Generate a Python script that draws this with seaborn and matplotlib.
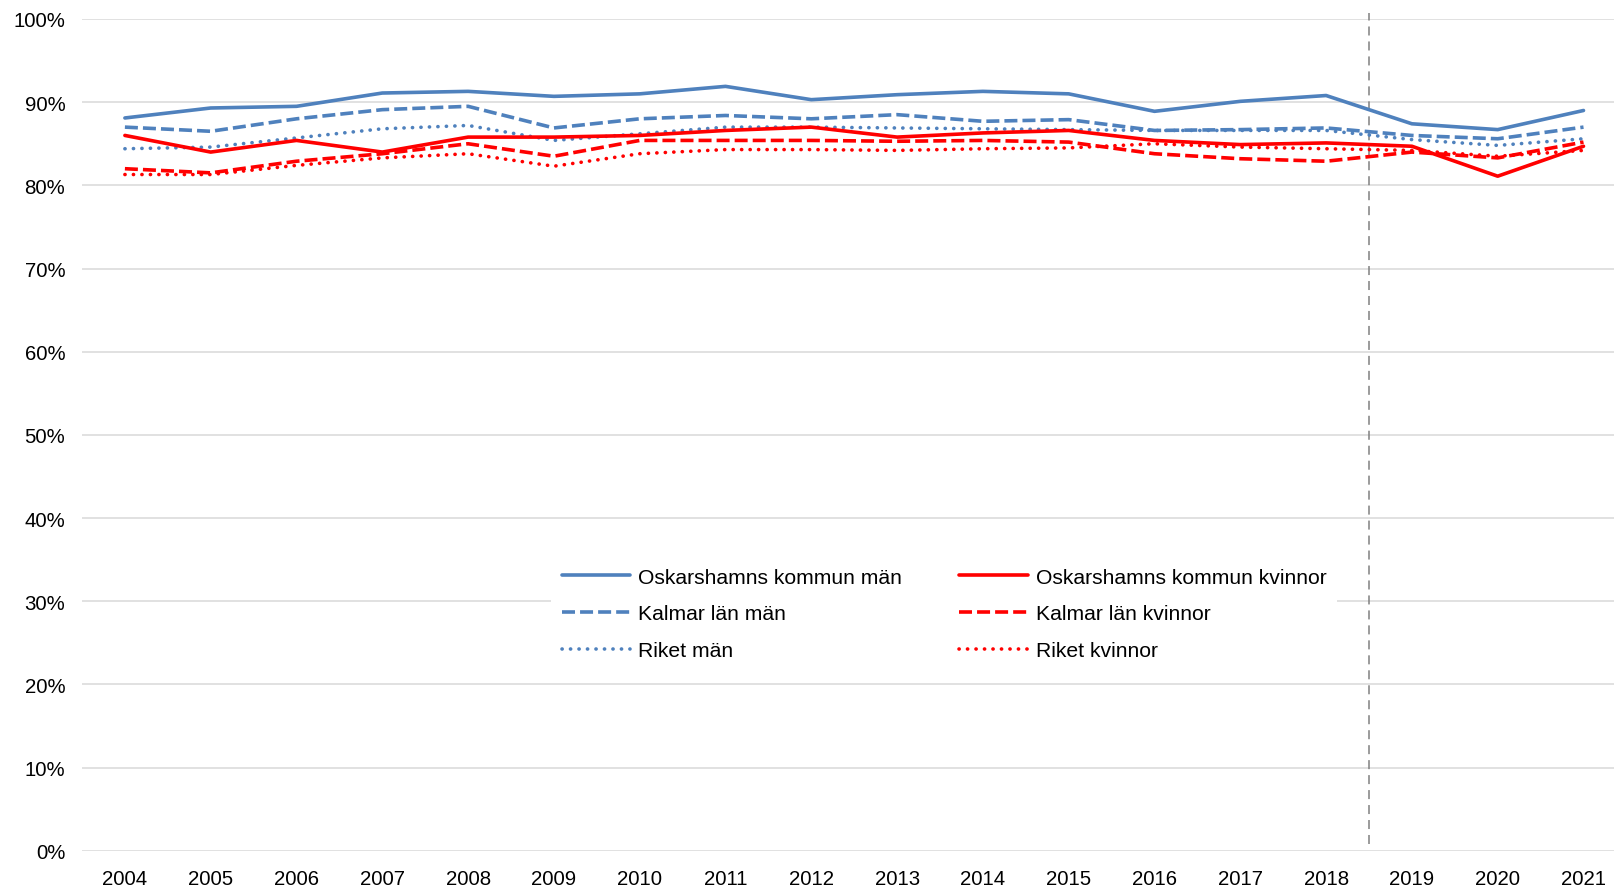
import matplotlib
matplotlib.use("Agg")
import matplotlib.pyplot as plt
from matplotlib.ticker import PercentFormatter
import seaborn as sns
import pandas as pd

years = list(range(2004, 2022))

osk_man = [88.1, 89.3, 89.5, 91.1, 91.3, 90.7, 91.0, 91.9, 90.3, 90.9, 91.3, 91.0, 88.9, 90.1, 90.8, 87.4, 86.7, 89.0]
kalmar_man = [87.0, 86.5, 88.0, 89.1, 89.5, 86.9, 88.0, 88.4, 88.0, 88.5, 87.7, 87.9, 86.6, 86.7, 86.9, 86.0, 85.6, 87.0]
riket_man = [84.4, 84.6, 85.7, 86.8, 87.2, 85.4, 86.2, 87.0, 87.0, 86.9, 86.8, 86.7, 86.6, 86.6, 86.6, 85.5, 84.8, 85.6]
osk_kv = [86.0, 84.0, 85.4, 84.0, 85.8, 85.8, 86.0, 86.6, 87.0, 85.8, 86.3, 86.6, 85.4, 84.9, 85.1, 84.7, 81.1, 84.7]
kalmar_kv = [82.0, 81.5, 82.9, 83.8, 85.0, 83.5, 85.4, 85.4, 85.4, 85.3, 85.4, 85.2, 83.8, 83.2, 82.9, 84.0, 83.3, 85.2]
riket_kv = [81.3, 81.3, 82.4, 83.3, 83.8, 82.3, 83.8, 84.3, 84.3, 84.2, 84.4, 84.5, 85.0, 84.6, 84.4, 84.2, 83.5, 84.2]

labels = ["Oskarshamns kommun män", "Kalmar län män", "Riket män",
          "Oskarshamns kommun kvinnor", "Kalmar län kvinnor", "Riket kvinnor"]
series = [osk_man, kalmar_man, riket_man, osk_kv, kalmar_kv, riket_kv]

BLUE = "#4f81bd"
RED = "#ff0000"
DASH = (0, (3.6, 1.4))
DOT = (0, (0.05, 2.3))
# colour, linestyle, cap
styles = [
    (BLUE, "-", "butt"),
    (BLUE, DASH, "butt"),
    (BLUE, DOT, "round"),
    (RED, "-", "butt"),
    (RED, DASH, "butt"),
    (RED, DOT, "round"),
]

sns.set_theme(style="whitegrid")
plt.rcParams["font.family"] = ["Liberation Sans", "DejaVu Sans"]

fig = plt.figure(figsize=(16.15, 8.87), dpi=100)
ax = fig.add_axes([82 / 1615, 1 - 851.7 / 887, 1 - 82 / 1615, (851.7 - 20) / 887])

for lab, vals, (col, ls, cap) in zip(labels, series, styles):
    df = pd.DataFrame({"year": years, "value": vals})
    sns.lineplot(data=df, x="year", y="value", ax=ax, color=col, linestyle=ls,
                 linewidth=2.6, label=lab, dash_capstyle=cap)

# vertical divider between 2018 and 2019
ax.plot([2018.5, 2018.5], [0.8, 100.7], color="#808080", linewidth=1.1,
        linestyle=(0, (5.9, 3.9)), clip_on=False, zorder=1)

ax.set_xlim(2003.5, 2003.5 + (1615 - 82) / 85.8)
ax.set_ylim(0, 100)
ax.set_xticks(years)
ax.set_yticks(range(0, 101, 10))
ax.yaxis.set_major_formatter(PercentFormatter(decimals=0))
ax.set_xlabel("")
ax.set_ylabel("")

ax.grid(axis="x", visible=False)
ax.grid(axis="y", color="#d9d9d9", linewidth=1.1)
for s in ax.spines.values():
    s.set_visible(False)
ax.tick_params(axis="both", length=0, labelsize=14.7, colors="black")
ax.tick_params(axis="y", pad=12)
ax.tick_params(axis="x", pad=13)

handles, labs = ax.get_legend_handles_labels()
leg = ax.legend(handles, labs, ncol=2, loc="center",
                bbox_to_anchor=(944 / 1615, 1 - 615 / 887), bbox_transform=fig.transFigure,
                frameon=True, facecolor="white", edgecolor="white", framealpha=1,
                fontsize=15.2, handlelength=3.25, handletextpad=0.38,
                columnspacing=2.7, labelspacing=0.85, borderpad=0.5, fancybox=False)
leg.get_frame().set_linewidth(0)
for t in leg.get_texts():
    t.set_color("black")

fig.savefig("out.png", dpi=100)
